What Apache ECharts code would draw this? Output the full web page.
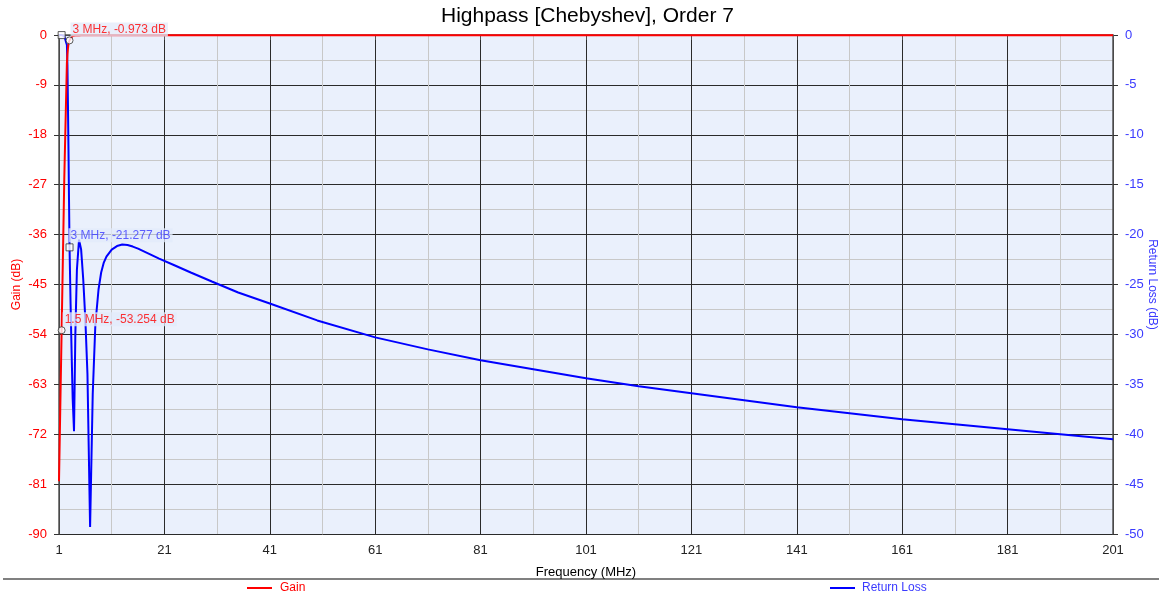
<!DOCTYPE html>
<html>
<head>
<meta charset="utf-8">
<script src="https://cdn.jsdelivr.net/npm/echarts@6/dist/echarts.min.js"></script>
<style>
html,body{margin:0;padding:0;background:#fff;}
#chart{width:1159px;height:595px;}
</style>
</head>
<body>
<div id="chart"></div>
<script>
// ---- data ----
const freqMHz = [1, 1.5, 2, 2.5, 2.6, 2.7, 2.8, 2.9, 3, 3.2, 3.4, 3.6, 3.85, 4.1, 4.4, 4.8, 5.2, 5.6, 6, 6.4, 6.9, 7.4, 7.9, 8.5, 9, 9.5, 10, 11, 12, 13, 14, 15, 16, 18, 20, 23, 26, 30, 35, 41, 50, 61, 71, 81, 91, 101, 111, 121, 131, 141, 151, 161, 171, 181, 191, 201];
const gainDb = [-80.5, -53.254, -26, -5, -3.5, -2.4, -1.6, -1.2, -0.973, -0.6, -0.35, -0.2, -0.12, -0.1, -0.08, -0.07, -0.06, -0.06, -0.05, -0.05, -0.05, -0.05, -0.05, -0.05, -0.05, -0.05, -0.05, -0.05, -0.05, -0.05, -0.05, -0.05, -0.05, -0.05, -0.05, -0.05, -0.05, -0.05, -0.05, -0.05, -0.05, -0.05, -0.05, -0.05, -0.05, -0.05, -0.05, -0.05, -0.05, -0.05, -0.05, -0.05, -0.05, -0.05, -0.05, -0.05];
const returnLossDb = [-0.0, -0.01, -0.1, -1.0, -3, -7, -11.5, -16.5, -21.277, -27, -32, -36.5, -39.7, -30, -23.5, -20.5, -21.5, -24.5, -28.5, -34, -49.3, -36, -29, -25.5, -23.8, -22.8, -22.2, -21.5, -21.15, -21.0, -21.05, -21.2, -21.4, -21.9, -22.4, -23.1, -23.8, -24.7, -25.8, -26.9, -28.6, -30.3, -31.5, -32.6, -33.5, -34.4, -35.2, -35.9, -36.6, -37.3, -37.9, -38.5, -39.0, -39.5, -40.0, -40.5];
const gainMarkers = [[1.5, -53.254], [3, -0.973]];
const rlMarkers = [[1.5, -0.01], [3, -21.277]];
const rlMarkerLabelShown = [false, true];
const titleText = 'Highpass [Chebyshev], Order 7';
const xName = 'Frequency (MHz)';
const gainName = 'Gain (dB)';
const rlName = 'Return Loss (dB)';
const seriesNames = ['Gain', 'Return Loss'];

const FONT = 'Liberation Sans, Arial, sans-serif';
const RED = '#ff0000';
const BLUE = '#0000ff';
const BLUE_TXT = '#3a3aff';

const gainData = freqMHz.map((f, i) => [f, gainDb[i]]);
const rlData = freqMHz.map((f, i) => [f, returnLossDb[i]]);
const lbl = (p) => p.value[0] + ' MHz, ' + p.value[1].toFixed(3) + ' dB';

const chart = echarts.init(document.getElementById('chart'), null, {renderer: 'canvas'});
chart.setOption({
  animation: false,
  backgroundColor: '#ffffff',
  textStyle: {fontFamily: FONT},
  title: {
    text: titleText, left: 441, top: 6, padding: 0,
    textStyle: {fontSize: 21, fontWeight: 'normal', color: '#000', fontFamily: FONT}
  },
  grid: {left: 59, right: 46, top: 35, bottom: 61, show: true, backgroundColor: '#eaf0fc', borderWidth: 0,
         containLabel: false, outerBoundsMode: 'none'},
  legend: [
    {data: [seriesNames[0]], left: 247, top: 582, padding: 0, icon: 'rect', itemWidth: 25, itemHeight: 2,
     textStyle: {color: RED, fontSize: 12, fontFamily: FONT, padding: [0, 0, 0, 3]}},
    {data: [seriesNames[1]], left: 830, top: 582, padding: 0, icon: 'rect', itemWidth: 25, itemHeight: 2,
     textStyle: {color: BLUE_TXT, fontSize: 12, fontFamily: FONT, padding: [0, 0, 0, 2]}}
  ],
  graphic: [{
    type: 'line', shape: {x1: 3, y1: 579, x2: 1159, y2: 579},
    style: {stroke: '#808080', lineWidth: 2}, silent: true
  }],
  xAxis: {
    type: 'value', min: 1, max: 201, interval: 20,
    name: xName, nameLocation: 'middle', nameGap: 32, nameMoveOverlap: false,
    nameTextStyle: {color: '#000', fontSize: 13, fontFamily: FONT},
    axisLine: {show: true, lineStyle: {color: '#555', width: 1.5}},
    axisTick: {show: true, length: 5, lineStyle: {color: '#555'}},
    axisLabel: {color: '#222', fontSize: 13, margin: 10, fontFamily: FONT},
    splitLine: {show: true, lineStyle: {color: '#2a2a2a', width: 1}},
    minorTick: {show: false, splitNumber: 2},
    minorSplitLine: {show: true, lineStyle: {color: '#c8c8c8', width: 1}}
  },
  yAxis: [
    {
      type: 'value', min: -90, max: 0, interval: 9, position: 'left',
      name: gainName, nameLocation: 'middle', nameGap: 36, nameRotate: 90, nameMoveOverlap: false,
      nameTextStyle: {color: RED, fontSize: 12, fontFamily: FONT},
      axisLine: {show: true, lineStyle: {color: '#555', width: 1.5}},
      axisTick: {show: true, length: 5, lineStyle: {color: '#333'}},
      axisLabel: {color: RED, fontSize: 13, margin: 12, fontFamily: FONT},
      splitLine: {show: true, lineStyle: {color: '#2a2a2a', width: 1}},
      minorTick: {show: false, splitNumber: 2},
      minorSplitLine: {show: true, lineStyle: {color: '#c8c8c8', width: 1}}
    },
    {
      type: 'value', min: -50, max: 0, interval: 5, position: 'right',
      name: rlName, nameLocation: 'middle', nameGap: 33, nameRotate: -90, nameMoveOverlap: false,
      nameTextStyle: {color: BLUE_TXT, fontSize: 12, fontFamily: FONT},
      axisLine: {show: true, lineStyle: {color: '#555', width: 1.5}},
      axisTick: {show: true, length: 5, lineStyle: {color: '#333'}},
      axisLabel: {color: BLUE_TXT, fontSize: 13, margin: 12, fontFamily: FONT},
      splitLine: {show: false}
    }
  ],
  series: [
    {
      name: seriesNames[1], type: 'line', yAxisIndex: 1, data: rlData,
      showSymbol: false, lineStyle: {color: BLUE, width: 2}, itemStyle: {color: BLUE}, z: 3
    },
    {
      name: seriesNames[0], type: 'line', yAxisIndex: 0, data: gainData,
      showSymbol: false, lineStyle: {color: RED, width: 2}, itemStyle: {color: RED}, z: 4
    },
    {
      name: 'gainMarkers', type: 'scatter', yAxisIndex: 0, data: gainMarkers,
      symbol: 'circle', symbolSize: 7, z: 6,
      itemStyle: {color: '#fff', borderColor: '#333', borderWidth: 1},
      label: {show: true, position: 'right', distance: 0, offset: [-3, -11], formatter: lbl,
        color: RED, fontSize: 12, fontFamily: FONT, backgroundColor: 'rgba(226,234,250,0.95)', padding: [1, 2]}
    },
    {
      name: 'rlMarkers', type: 'scatter', yAxisIndex: 1,
      data: rlMarkers.map((d, i) => ({value: d, label: {show: rlMarkerLabelShown[i]}})),
      symbol: 'rect', symbolSize: 7, z: 6,
      itemStyle: {color: '#fff', borderColor: '#333', borderWidth: 1},
      label: {show: true, position: 'right', distance: 0, offset: [-5, -12], formatter: lbl,
        color: BLUE_TXT, fontSize: 12, fontFamily: FONT, backgroundColor: 'rgba(226,234,250,0.95)', padding: [1, 2]}
    }
  ]
});
</script>
</body>
</html>
